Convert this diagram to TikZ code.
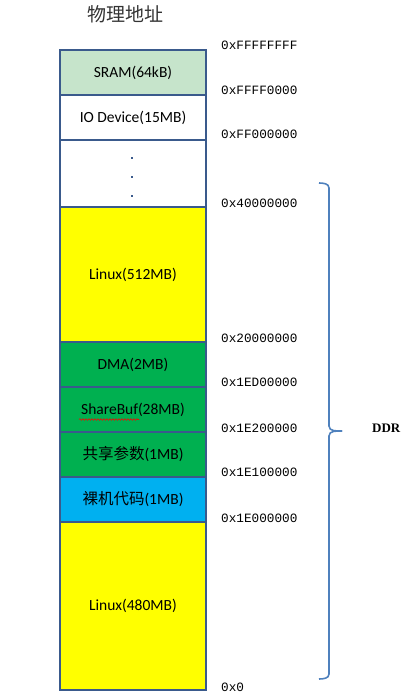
\documentclass[tikz,border=0pt]{standalone}
\usepackage{fontspec}
\setmainfont{Carlito}
\newfontfamily\cjk{Noto Sans CJK SC}
\newfontfamily\addrfont{Liberation Mono}
\newfontfamily\ddrfont{Liberation Serif}
\usetikzlibrary{decorations.pathmorphing}
\definecolor{edge}{HTML}{3A5A8C}
\definecolor{sramc}{HTML}{C6E4CB}
\definecolor{greenc}{HTML}{00B050}
\definecolor{bluec}{HTML}{00B0F0}
\definecolor{yellowc}{HTML}{FFFF00}
\definecolor{bracec}{HTML}{4F81BD}
\begin{document}
\begin{tikzpicture}[x=1pt,y=-1pt,
  memblock/.style={draw=edge,line width=2pt,minimum width=146pt,inner sep=0pt,anchor=north,
    font=\fontsize{15.5}{15.5}\selectfont,text=black},
  addr/.style={anchor=west,inner sep=0pt,font=\addrfont\fontsize{12.7}{12.7}\selectfont},
  bracestyle/.style={draw=bracec,line width=1.6pt}]
\useasboundingbox (0,0) rectangle (406,698);
\node[font=\cjk\fontsize{19}{19}\selectfont,text=black!80] (title) at (125,14) {物理地址};
\node[memblock,fill=sramc,minimum height=45pt] (sram) at (133,49) {SRAM(64kB)};
\node[memblock,fill=white,minimum height=45pt] (io) at (133,94) {IO Device(15MB)};
\node[memblock,fill=white,minimum height=67pt] (gap) at (133,139) {};
\node[memblock,fill=yellowc,minimum height=135pt] (linuxa) at (133,206) {Linux(512MB)};
\node[memblock,fill=greenc,minimum height=45pt] (dma) at (133,341) {DMA(2MB)};
\node[memblock,fill=greenc,minimum height=45pt] (share) at (133,386) {ShareBuf(28MB)};
\node[memblock,fill=greenc,minimum height=45pt] (param) at (133,431) {{\cjk 共享参数}(1MB)};
\node[memblock,fill=bluec,minimum height=45pt] (bare) at (133,476) {{\cjk 裸机代码}(1MB)};
\node[memblock,fill=yellowc,minimum height=168pt] (linuxb) at (133,521) {Linux(480MB)};
\foreach \yy [count=\i] in {158,177,196}
  \fill[edge] (131,\yy-1) rectangle (133,\yy+1);
\draw[red,line width=0.6pt,decorate,decoration={snake,segment length=3pt,amplitude=0.8pt}]
  (79,419.5) -- (139,419.5);
\node[addr] (a1) at (221,45) {0xFFFFFFFF};
\node[addr] (a2) at (221,90) {0xFFFF0000};
\node[addr] (a3) at (221,134) {0xFF000000};
\node[addr] (a4) at (221,203) {0x40000000};
\node[addr] (a5) at (221,338) {0x20000000};
\node[addr] (a6) at (221,382) {0x1ED00000};
\node[addr] (a7) at (221,428) {0x1E200000};
\node[addr] (a8) at (221,472) {0x1E100000};
\node[addr] (a9) at (221,518) {0x1E000000};
\node[addr] (a10) at (221,687) {0x0};
\coordinate (btop) at (319,183);
\coordinate (btip) at (342,431);
\coordinate (bbot) at (319,679);
\draw[bracestyle] (btop) to[out=0,in=90] (329,188) -- (329,426) to[out=-90,in=180] (btip);
\draw[bracestyle] (btip) to[out=180,in=90] (329,436) -- (329,674) to[out=-90,in=0] (bbot);
\node[font=\ddrfont\bfseries\fontsize{13}{13}\selectfont,anchor=west,inner sep=0pt] (ddr) at (372,428) {DDR};
\end{tikzpicture}
\end{document}
